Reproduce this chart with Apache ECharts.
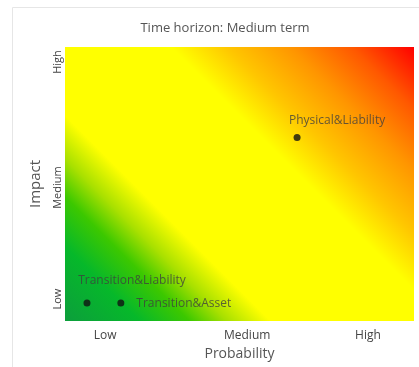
<!DOCTYPE html>
<html lang="en">

<head>
    <meta charset="UTF-8">
    <title>Time horizon: Medium term</title>
    <script src="https://cdn.jsdelivr.net/npm/echarts@6/dist/echarts.min.js"></script>
    <style>
        html,
        body,
        #chart {
            width: 100%;
            height: 100%;
            margin: 0;
            padding: 0;
            background: #fff;
        }
    </style>
</head>

<body>
    <div id="chart"></div>
    <script>
        // risk names and positions (0-10 scale on both axes)
        var riskNames = ['Physical&Liability', 'Transition&Liability', 'Transition&Asset'];
        var probability = [6.65, 0.63, 1.6];
        var impact = [6.7, 0.66, 0.66];

        // axis tick labels and where they sit
        var xLabels = ['Low', 'Medium', 'High'];
        var xLabelPos = [1.15, 5.22, 8.68];
        var yLabels = ['Low', 'Medium', 'High'];
        var yLabelPos = [0.8, 4.87, 9.45];

        var font = '"Open Sans", "Noto Sans", sans-serif';

        function tickName(names, pos) {
            return function(v) {
                for (var i = 0; i < pos.length; i++) {
                    if (Math.abs(pos[i] - v) < 0.001) return names[i];
                }
                return '';
            };
        }

        var points = riskNames.map(function(n, i) {
            return [probability[i], impact[i], n];
        });

        // label offsets per point
        var labelStyles = [
            { position: 'top', offset: [40, -2] },
            { position: 'top', offset: [45, -8] },
            { position: 'right', offset: [7, 1] }
        ];

        // grid box in pixels, the fill runs at 45deg from bottom-left to top-right
        var gl = 65, gt = 47, gw = 349, gh = 274;
        var d = (gw + gh) / 2;

        var chart = echarts.init(document.getElementById('chart'));
        chart.setOption({
            backgroundColor: '#fff',
            animation: false,
            title: {
                text: 'Time horizon: Medium term',
                left: 220,
                top: 17,
                textAlign: 'center',
                textStyle: {
                    fontFamily: font,
                    fontSize: 13,
                    fontWeight: 'normal',
                    color: '#555'
                }
            },
            graphic: [{
                type: 'rect',
                shape: { x: 12.5, y: 7.5, width: 430, height: 380 },
                style: { fill: 'none', stroke: '#e6e6e6', lineWidth: 1 },
                z: -1
            }],
            grid: {
                left: gl,
                right: 419 - gl - gw,
                top: gt,
                bottom: 367 - gt - gh,
                show: true,
                borderWidth: 0,
                backgroundColor: new echarts.graphic.LinearGradient(gl, gt + gh, gl + d, gt + gh - d, [
                    { offset: 0, color: '#0c9e3c' },
                    { offset: 0.12, color: '#06b82a' },
                    { offset: 0.2, color: '#3cc800' },
                    { offset: 0.26, color: '#a8e000' },
                    { offset: 0.33, color: '#ffff00' },
                    { offset: 0.61, color: '#ffff00' },
                    { offset: 0.7, color: '#ffc600' },
                    { offset: 0.8, color: '#ff9600' },
                    { offset: 0.9, color: '#ff5800' },
                    { offset: 1, color: '#ff0000' }
                ], true)
            },
            xAxis: {
                type: 'value',
                min: 0,
                max: 10,
                name: 'Probability',
                nameLocation: 'middle',
                nameGap: 23,
                nameTextStyle: { fontFamily: font, fontSize: 14, color: '#555' },
                axisLine: { show: false },
                axisTick: { show: false },
                splitLine: { show: false },
                axisLabel: {
                    customValues: xLabelPos,
                    formatter: tickName(xLabels, xLabelPos),
                    margin: 9,
                    fontFamily: font,
                    fontSize: 12,
                    color: '#444'
                }
            },
            yAxis: {
                type: 'value',
                min: 0,
                max: 10,
                name: 'Impact',
                nameLocation: 'middle',
                nameGap: 22,
                nameRotate: 90,
                nameTextStyle: { fontFamily: font, fontSize: 15, color: '#555' },
                axisLine: { show: false },
                axisTick: { show: false },
                splitLine: { show: false },
                axisLabel: {
                    customValues: yLabelPos,
                    formatter: tickName(yLabels, yLabelPos),
                    rotate: 90,
                    margin: 2,
                    fontFamily: font,
                    fontSize: 11,
                    color: '#444'
                }
            },
            series: [{
                type: 'scatter',
                symbol: 'circle',
                symbolSize: 7,
                itemStyle: { color: '#111' },
                data: points.map(function(p, i) {
                    return {
                        value: p,
                        label: labelStyles[i]
                    };
                }),
                label: {
                    show: true,
                    formatter: function(p) { return p.value[2]; },
                    fontFamily: font,
                    fontSize: 12,
                    color: '#3f3f3f'
                }
            }]
        });
    </script>
</body>

</html>
